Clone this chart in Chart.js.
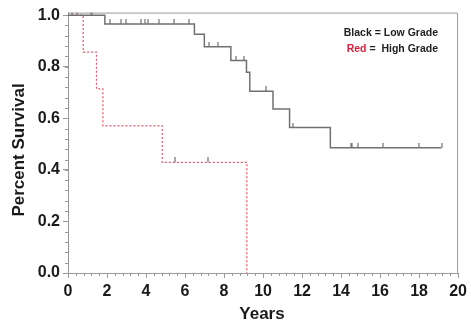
<!DOCTYPE html>
<html>
<head>
<meta charset="utf-8">
<script src="https://cdn.jsdelivr.net/npm/chart.js@4.4.1/dist/chart.umd.min.js"></script>
<style>
html,body{margin:0;padding:0;background:#fff;}
#wrap{width:471px;height:326px;position:relative;}
</style>
</head>
<body>
<div id="wrap"><canvas id="c" width="471" height="326"></canvas></div>
<script>
// ---- data ----
const xTickLabels = [0, 2, 4, 6, 8, 10, 12, 14, 16, 18, 20];
const yTickLabels = [0.0, 0.2, 0.4, 0.6, 0.8, 1.0];

// Low grade (black): step times (years) and survival after each step
const lowGradeTimes    = [0, 1.89, 6.48, 6.99, 8.35, 9.15, 9.32, 10.51, 11.36, 13.45];
const lowGradeSurvival = [1.0, 0.966, 0.926, 0.878, 0.824, 0.779, 0.705, 0.636, 0.564, 0.486];
const lowGradeLastFollowUp = 19.15;
const lowGradeCensored = [0.22, 0.47, 1.17, 1.25, 2.14, 2.74, 2.99, 3.76, 3.93, 4.10, 4.69, 5.46, 6.22,
                          7.24, 7.70, 8.61, 9.03, 10.17, 11.53, 14.50, 14.56, 14.86, 16.17, 18.00, 19.15];

// High grade (red)
const highGradeTimes    = [0, 0.78, 1.46, 1.79, 4.83, 9.17];
const highGradeSurvival = [1.0, 0.857, 0.714, 0.571, 0.429, 0.0];
const highGradeCensored = [5.49, 7.16];

// ---- helpers ----
function survivalAt(times, surv, t) {
  let s = surv[0];
  for (let i = 0; i < times.length; i++) { if (times[i] <= t) s = surv[i]; }
  return s;
}
function stepPoints(times, surv, endT) {
  const pts = times.map((t, i) => ({x: t, y: surv[i]}));
  if (endT !== undefined) pts.push({x: endT, y: surv[surv.length - 1]});
  return pts;
}
function censorPoints(times, surv, cens) {
  return cens.map(t => ({x: t, y: survivalAt(times, surv, t)}));
}
// censor tick: vertical stroke rising above the curve
function makeCensorMark(color) {
  const cv = document.createElement('canvas');
  cv.width = 2; cv.height = 10;
  const g = cv.getContext('2d');
  g.fillStyle = color;
  g.fillRect(0.5, 0, 1, 5);
  return cv;
}
const censorMark = makeCensorMark('#555');

const LINE_GRAY = '#707070';
const AXIS_GRAY = '#9a9a9a';
const RED = '#e2576b';
const FONT = '"Liberation Sans", Arial, sans-serif';

const decorPlugin = {
  id: 'decor',
  afterDraw(chart) {
    const ctx = chart.ctx;
    const a = chart.chartArea;
    const xs = chart.scales.x, ys = chart.scales.y;
    ctx.save();
    // frame (top and right)
    ctx.strokeStyle = AXIS_GRAY;
    ctx.lineWidth = 1;
    ctx.beginPath();
    ctx.moveTo(a.left, a.top + 0.5);
    ctx.lineTo(a.right - 0.5, a.top + 0.5);
    ctx.lineTo(a.right - 0.5, a.bottom);
    ctx.stroke();
    // minor ticks
    ctx.beginPath();
    for (let v = 0; v <= 20.001; v += 0.4) {
      const px = Math.round(xs.getPixelForValue(v)) + 0.5;
      ctx.moveTo(px, a.bottom);
      ctx.lineTo(px, a.bottom + 3);
    }
    for (let v = 0; v <= 1.0001; v += 0.04) {
      const py = Math.round(ys.getPixelForValue(v)) + 0.5;
      ctx.moveTo(a.left, py);
      ctx.lineTo(a.left - 3, py);
    }
    ctx.stroke();
    // axis titles
    ctx.fillStyle = '#1a1a1a';
    ctx.font = 'bold 17px ' + FONT;
    ctx.textAlign = 'center';
    ctx.textBaseline = 'middle';
    ctx.fillText('Years', 262, 314);
    ctx.save();
    ctx.translate(19, 150);
    ctx.rotate(-Math.PI / 2);
    ctx.fillText('Percent Survival', 0, 0);
    ctx.restore();
    // legend text
    ctx.font = 'bold 10.5px ' + FONT;
    ctx.textAlign = 'right';
    ctx.fillStyle = '#222';
    ctx.fillText('Black = Low Grade', 438, 33);
    const full = 'Red =  High Grade';
    const rest = ' =  High Grade';
    ctx.textAlign = 'left';
    const x0 = 438 - ctx.measureText(full).width;
    ctx.fillStyle = '#e0203c';
    ctx.fillText('Red', x0, 49);
    ctx.fillStyle = '#222';
    ctx.fillText(rest, x0 + ctx.measureText('Red').width, 49);
    ctx.restore();
  }
};

new Chart(document.getElementById('c'), {
  type: 'line',
  data: {
    datasets: [
      {
        label: 'Low Grade',
        data: stepPoints(lowGradeTimes, lowGradeSurvival, lowGradeLastFollowUp),
        borderColor: LINE_GRAY, borderWidth: 1.5, stepped: 'before',
        pointRadius: 0, fill: false
      },
      {
        label: 'High Grade',
        data: stepPoints(highGradeTimes, highGradeSurvival),
        borderColor: RED, borderWidth: 1.2, borderDash: [2, 2], stepped: 'before',
        pointRadius: 0, fill: false
      },
      {
        type: 'scatter', label: 'Low censored',
        data: censorPoints(lowGradeTimes, lowGradeSurvival, lowGradeCensored),
        pointStyle: censorMark, showLine: false
      },
      {
        type: 'scatter', label: 'High censored',
        data: censorPoints(highGradeTimes, highGradeSurvival, highGradeCensored),
        pointStyle: censorMark, showLine: false
      }
    ]
  },
  options: {
    responsive: false,
    animation: false,
    devicePixelRatio: 1,
    layout: {padding: {left: 0, top: 10, right: 9, bottom: 0}},
    plugins: {legend: {display: false}, tooltip: {enabled: false}},
    scales: {
      x: {
        type: 'linear', min: 0, max: 20,
        afterFit(s) { s.height = 53; },
        afterBuildTicks(s) { s.ticks = xTickLabels.map(v => ({value: v})); },
        ticks: {
          color: '#1a1a1a', padding: 4, maxRotation: 0, autoSkip: false,
          font: {family: FONT, size: 16, weight: 'bold'},
          callback: v => String(v)
        },
        grid: {drawOnChartArea: false, drawTicks: true, tickLength: 5, color: AXIS_GRAY},
        border: {display: true, color: AXIS_GRAY, width: 1}
      },
      y: {
        type: 'linear', min: 0, max: 1.01,
        afterFit(s) { s.width = 68; },
        afterBuildTicks(s) { s.ticks = yTickLabels.map(v => ({value: v})); },
        ticks: {
          color: '#1a1a1a', padding: 3, autoSkip: false,
          font: {family: FONT, size: 16, weight: 'bold'},
          callback: v => Number(v).toFixed(1)
        },
        grid: {drawOnChartArea: false, drawTicks: true, tickLength: 5, color: AXIS_GRAY},
        border: {display: true, color: AXIS_GRAY, width: 1}
      }
    }
  },
  plugins: [decorPlugin]
});
</script>
</body>
</html>
